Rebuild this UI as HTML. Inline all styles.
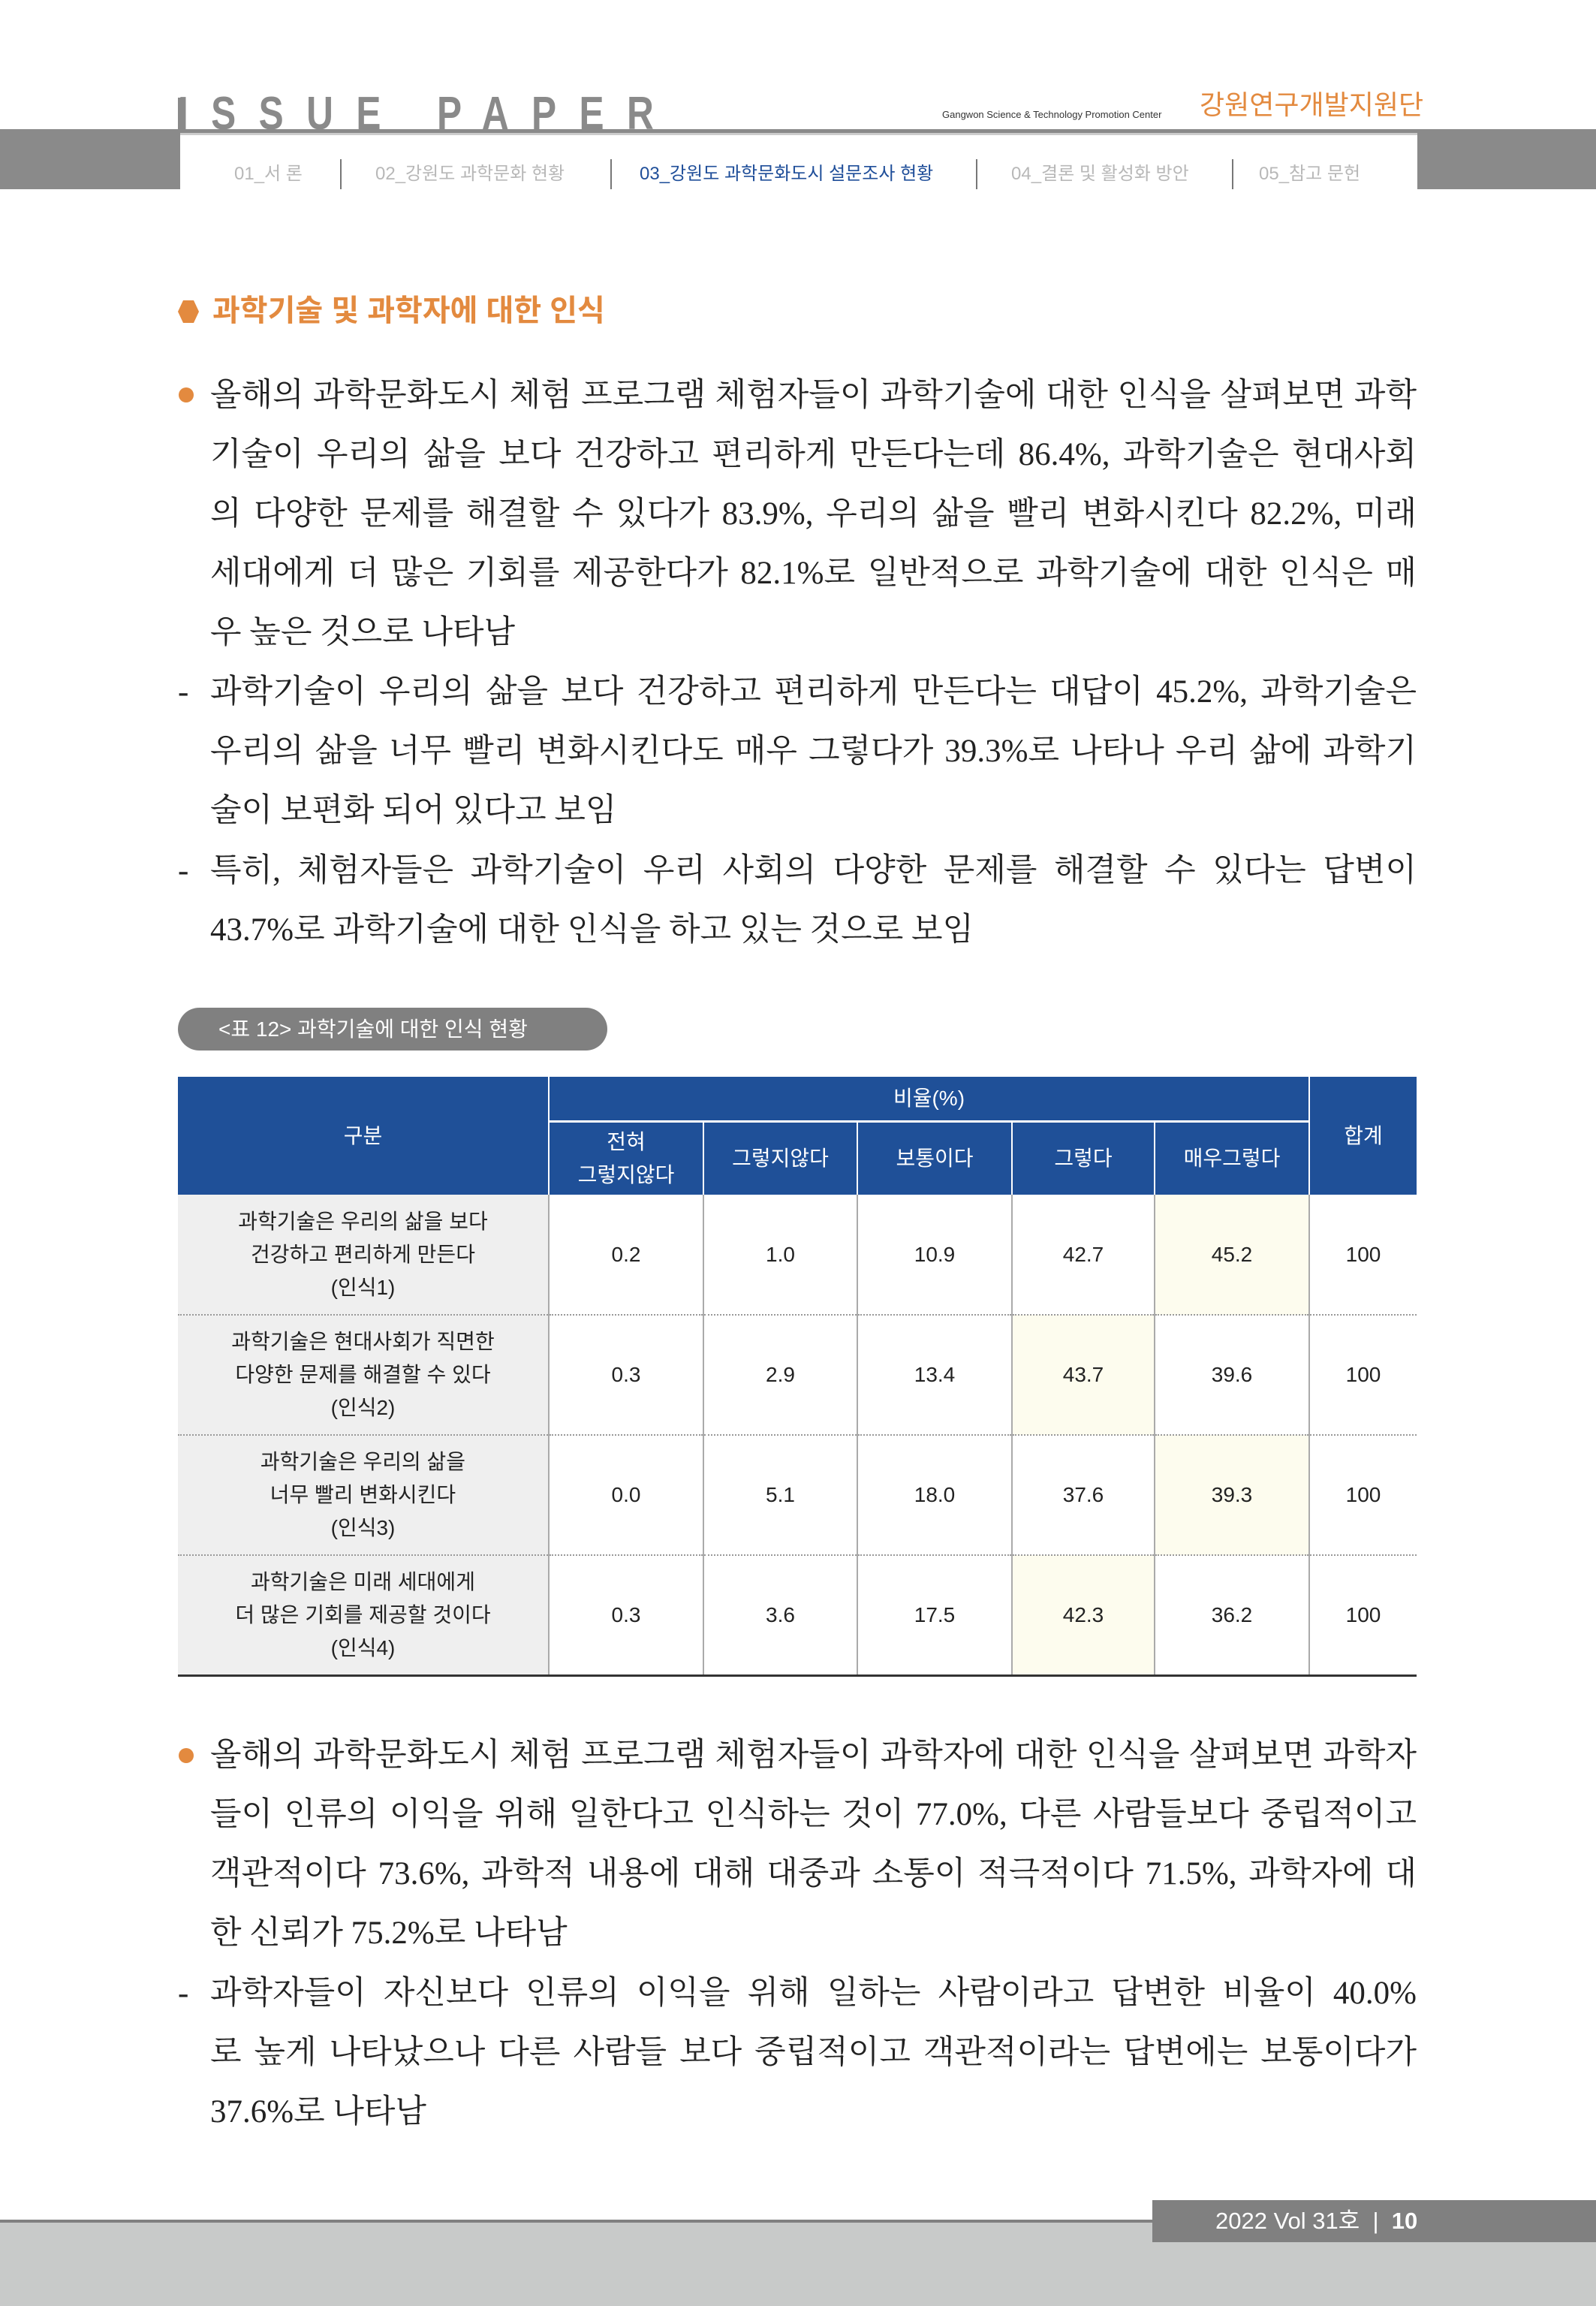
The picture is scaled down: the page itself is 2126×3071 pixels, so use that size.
<!DOCTYPE html>
<html><head><meta charset="utf-8">
<style>
*{margin:0;padding:0;box-sizing:border-box}
body{width:2126px;height:3071px;position:relative;background:#fff;overflow:hidden;font-family:"Liberation Sans","Noto Sans CJK KR",sans-serif}
.a{position:absolute}
.ln{position:absolute;left:280px;width:1607px;font-family:"Liberation Serif","Noto Serif CJK SC",serif;font-size:43px;color:#222;white-space:nowrap;line-height:60px;text-align:justify;text-align-last:justify}
.ln.l{text-align-last:left}
.dash{position:absolute;left:237px;font-family:"Liberation Serif",serif;font-size:43px;color:#222;line-height:60px}
.dot{position:absolute;left:238px;width:20px;height:20px;border-radius:50%;background:#e38a3f}
.nav{position:absolute;top:215px;font-size:24px;color:#b8b8b8;line-height:34px}
.sep{position:absolute;top:212px;width:2px;height:40px;background:#777}
table{position:absolute;left:237px;top:1434px;width:1650px;border-collapse:collapse;font-size:28px;color:#222;text-align:center}
td,th{font-weight:normal;line-height:44px}
th{background:#1f5098;color:#fff;border-left:2px solid #fff}
td{border-left:2px solid #aaa;border-bottom:2px dotted #999;height:160px}
td.h{background:#efefef;border-left:none}
td.y{background:#fdfcee}
tr.last td{border-bottom:3px solid #333}
</style></head><body>
<!-- header -->
<div class="a" style="left:237px;top:121px;font-size:62px;color:#8a8a8a;letter-spacing:38px;font-weight:bold;transform:scaleX(0.8);transform-origin:left top;line-height:62px;">ISSUE PAPER</div>
<div class="a" style="left:237px;top:130px;width:4px;height:42px;background:#8a8a8a"></div>
<div class="a" style="left:1255px;top:145px;font-size:13px;color:#333;">Gangwon Science &amp; Technology Promotion Center</div>
<div class="a" style="left:1598px;top:117px;font-size:36px;color:#e38a3f;line-height:46px;">강원연구개발지원단</div>
<div class="a" style="left:0;top:172px;width:2126px;height:5px;background:#8a8a8a"></div>
<div class="a" style="left:0;top:172px;width:240px;height:80px;background:#8a8a8a"></div>
<div class="a" style="left:1888px;top:172px;width:238px;height:80px;background:#8a8a8a"></div>
<div class="a" style="left:240px;top:177px;width:1648px;height:3px;background:#ccc"></div>
<div class="nav" style="left:312px">01_서 론</div>
<div class="sep" style="left:453px"></div>
<div class="nav" style="left:500px">02_강원도 과학문화 현황</div>
<div class="sep" style="left:813px"></div>
<div class="nav" style="left:852px;color:#1f4e99">03_강원도 과학문화도시 설문조사 현황</div>
<div class="sep" style="left:1300px"></div>
<div class="nav" style="left:1347px">04_결론 및 활성화 방안</div>
<div class="sep" style="left:1641px"></div>
<div class="nav" style="left:1677px">05_참고 문헌</div>
<!-- heading -->
<div class="a" style="left:237px;top:400px;width:28px;height:30px;background:#e38a3f;clip-path:polygon(25% 0,75% 0,100% 50%,75% 100%,25% 100%,0 50%)"></div>
<div class="a" style="left:283px;top:387px;font-size:40px;font-weight:bold;color:#e38a3f;line-height:54px">과학기술 및 과학자에 대한 인식</div>
<!-- paragraph 1 -->
<div class="dot" style="top:516px"></div>
<div class="ln" style="top:497px">올해의 과학문화도시 체험 프로그램 체험자들이 과학기술에 대한 인식을 살펴보면 과학</div>
<div class="ln" style="top:576px">기술이 우리의 삶을 보다 건강하고 편리하게 만든다는데 86.4%, 과학기술은 현대사회</div>
<div class="ln" style="top:655px">의 다양한 문제를 해결할 수 있다가 83.9%, 우리의 삶을 빨리 변화시킨다 82.2%, 미래</div>
<div class="ln" style="top:734px">세대에게 더 많은 기회를 제공한다가 82.1%로 일반적으로 과학기술에 대한 인식은 매</div>
<div class="ln l" style="top:813px">우 높은 것으로 나타남</div>
<div class="dash" style="top:892px">-</div>
<div class="ln" style="top:892px">과학기술이 우리의 삶을 보다 건강하고 편리하게 만든다는 대답이 45.2%, 과학기술은</div>
<div class="ln" style="top:971px">우리의 삶을 너무 빨리 변화시킨다도 매우 그렇다가 39.3%로 나타나 우리 삶에 과학기</div>
<div class="ln l" style="top:1050px">술이 보편화 되어 있다고 보임</div>
<div class="dash" style="top:1130px">-</div>
<div class="ln" style="top:1130px">특히, 체험자들은 과학기술이 우리 사회의 다양한 문제를 해결할 수 있다는 답변이</div>
<div class="ln l" style="top:1209px">43.7%로 과학기술에 대한 인식을 하고 있는 것으로 보임</div>
<!-- caption -->
<div class="a" style="left:237px;top:1342px;width:572px;height:57px;border-radius:29px;background:#808080;color:#fff;font-size:28px;line-height:57px;padding-left:54px">&lt;표 12&gt; 과학기술에 대한 인식 현황</div>
<!-- table -->
<table>
<colgroup><col style="width:494px"><col style="width:206px"><col style="width:205px"><col style="width:206px"><col style="width:190px"><col style="width:206px"><col style="width:143px"></colgroup>
<tr style="height:59px"><th rowspan="2" style="border-left:none">구분</th><th colspan="5" style="border-bottom:3px solid #fff">비율(%)</th><th rowspan="2">합계</th></tr>
<tr style="height:98px"><th>전혀<br>그렇지않다</th><th>그렇지않다</th><th>보통이다</th><th>그렇다</th><th>매우그렇다</th></tr>
<tr><td class="h">과학기술은 우리의 삶을 보다<br>건강하고 편리하게 만든다<br>(인식1)</td><td>0.2</td><td>1.0</td><td>10.9</td><td>42.7</td><td class="y">45.2</td><td>100</td></tr>
<tr><td class="h">과학기술은 현대사회가 직면한<br>다양한 문제를 해결할 수 있다<br>(인식2)</td><td>0.3</td><td>2.9</td><td>13.4</td><td class="y">43.7</td><td>39.6</td><td>100</td></tr>
<tr><td class="h">과학기술은 우리의 삶을<br>너무 빨리 변화시킨다<br>(인식3)</td><td>0.0</td><td>5.1</td><td>18.0</td><td>37.6</td><td class="y">39.3</td><td>100</td></tr>
<tr class="last"><td class="h">과학기술은 미래 세대에게<br>더 많은 기회를 제공할 것이다<br>(인식4)</td><td>0.3</td><td>3.6</td><td>17.5</td><td class="y">42.3</td><td>36.2</td><td>100</td></tr>
</table>
<!-- paragraph 2 -->
<div class="dot" style="top:2328px"></div>
<div class="ln" style="top:2308px">올해의 과학문화도시 체험 프로그램 체험자들이 과학자에 대한 인식을 살펴보면 과학자</div>
<div class="ln" style="top:2387px">들이 인류의 이익을 위해 일한다고 인식하는 것이 77.0%, 다른 사람들보다 중립적이고</div>
<div class="ln" style="top:2466px">객관적이다 73.6%, 과학적 내용에 대해 대중과 소통이 적극적이다 71.5%, 과학자에 대</div>
<div class="ln l" style="top:2545px">한 신뢰가 75.2%로 나타남</div>
<div class="dash" style="top:2625px">-</div>
<div class="ln" style="top:2625px">과학자들이 자신보다 인류의 이익을 위해 일하는 사람이라고 답변한 비율이 40.0%</div>
<div class="ln" style="top:2704px">로 높게 나타났으나 다른 사람들 보다 중립적이고 객관적이라는 답변에는 보통이다가</div>
<div class="ln l" style="top:2783px">37.6%로 나타남</div>
<!-- footer -->
<div class="a" style="left:0;top:2960px;width:2126px;height:111px;background:#c8cac9"></div>
<div class="a" style="left:0;top:2956px;width:1540px;height:4px;background:#808080"></div>
<div class="a" style="left:1535px;top:2930px;width:591px;height:56px;background:#808080"></div>
<div class="a" style="left:1619px;top:2938px;font-size:31px;color:#fff;line-height:40px;white-space:nowrap">2022 Vol 31호 &nbsp;|&nbsp; <b>10</b></div>
</body></html>
